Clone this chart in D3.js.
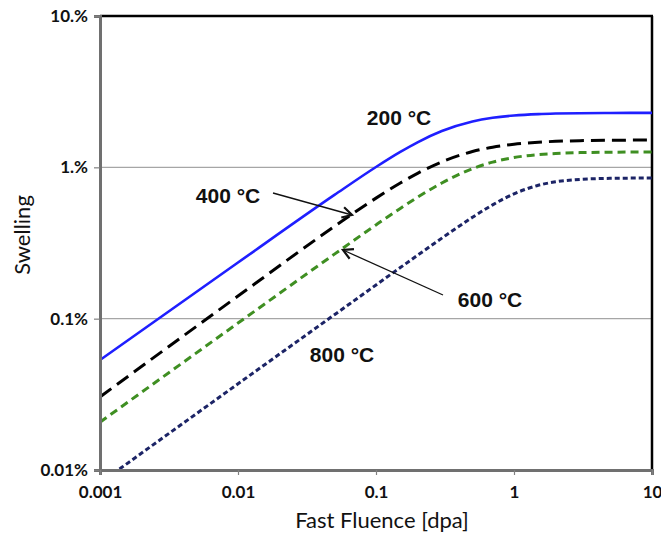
<!DOCTYPE html>
<html>
<head>
<meta charset="utf-8">
<script src="https://cdn.jsdelivr.net/npm/d3@7"></script>
<style>
  html, body { margin: 0; padding: 0; background: #fff; }
  svg { display: block; }
</style>
</head>
<body>
<svg id="chart" width="661" height="534"></svg>
<script>
// Fast fluence sample points [dpa]
const fluence = [0.001, 0.01, 0.05, 0.1, 0.15, 0.2, 0.3, 0.5, 0.7, 1, 1.5, 2, 3, 5, 10];

// Swelling [%] for each irradiation temperature
const swell200 = [0.0533, 0.235, 0.657, 1.005, 1.264, 1.463, 1.736, 2.009, 2.125, 2.201, 2.248, 2.266, 2.279, 2.286, 2.29];
const swell400 = [0.0304, 0.141, 0.407, 0.626, 0.788, 0.913, 1.087, 1.271, 1.359, 1.422, 1.466, 1.485, 1.500, 1.510, 1.515];
const swell600 = [0.0207, 0.0935, 0.267, 0.4165, 0.5355, 0.6345, 0.7885, 0.980, 1.083, 1.161, 1.213, 1.234, 1.251, 1.259, 1.264];
const swell800 = [0.0082, 0.0371, 0.1062, 0.167, 0.2176, 0.2623, 0.3405, 0.4675, 0.5651, 0.6683, 0.7608, 0.8025, 0.8324, 0.8459, 0.8502];

// Axis ticks
const xTicks = [0.001, 0.01, 0.1, 1, 10];
const xTickLabels = ["0.001", "0.01", "0.1", "1", "10"];
const yTicks = [0.01, 0.1, 1, 10];
const yTickLabels = ["0.01%", "0.1%", "1.%", "10.%"];
const gridValues = [0.1, 1];

const svg = d3.select("#chart");
const plotLeft = 100, plotRight = 652, plotTop = 16, plotBottom = 470;

const x = d3.scaleLog().domain([0.001, 10]).range([plotLeft, plotRight]);
const y = d3.scaleLog().domain([0.01, 10]).range([plotBottom, plotTop]);

// horizontal gridlines
svg.append("g").selectAll("line").data(gridValues).join("line")
  .attr("x1", plotLeft).attr("x2", plotRight)
  .attr("y1", d => y(d)).attr("y2", d => y(d))
  .attr("stroke", "#a6a6a6").attr("stroke-width", 1.2);

// plot frame: dark top and right edges
svg.append("line").attr("x1", plotLeft).attr("x2", plotRight + 1).attr("y1", plotTop).attr("y2", plotTop)
  .attr("stroke", "#000").attr("stroke-width", 2.5);
svg.append("line").attr("x1", plotRight).attr("x2", plotRight).attr("y1", plotTop).attr("y2", plotBottom)
  .attr("stroke", "#000").attr("stroke-width", 2.5);

const series = [
  { ys: swell200, color: "#1f1fff", dash: null,   width: 2.6 },
  { ys: swell400, color: "#000000", dash: "14,7", width: 3 },
  { ys: swell600, color: "#3f8f22", dash: "8,5",  width: 3 },
  { ys: swell800, color: "#1c2466", dash: "5,3",  width: 3 }
];

const line = d3.line()
  .x(d => x(d[0]))
  .y(d => y(d[1]))
  .curve(d3.curveMonotoneX);

svg.append("defs").append("clipPath").attr("id", "plotClip")
  .append("rect").attr("x", plotLeft).attr("y", plotTop)
  .attr("width", plotRight - plotLeft).attr("height", plotBottom - plotTop);

svg.append("g").attr("clip-path", "url(#plotClip)")
  .selectAll("path").data(series).join("path")
  .attr("d", s => line(fluence.map((v, i) => [v, s.ys[i]])))
  .attr("fill", "none")
  .attr("stroke", s => s.color)
  .attr("stroke-width", s => s.width)
  .attr("stroke-dasharray", s => s.dash);

const tickFont = "Lato, 'Open Sans', sans-serif";

// y axis
const yAxis = d3.axisLeft(y).tickValues(yTicks)
  .tickFormat((d, i) => yTickLabels[i]).tickSize(6).tickPadding(6);
const gy = svg.append("g").attr("transform", `translate(${plotLeft},0)`).call(yAxis);
gy.select(".domain").attr("stroke", "#707070").attr("stroke-width", 3);
gy.selectAll(".tick line").attr("stroke", "#808080").attr("stroke-width", 1.2);
gy.selectAll("text").attr("font-family", tickFont)
  .attr("font-weight", "bold").attr("font-size", 17).attr("fill", "#111");

// x axis
const xAxis = d3.axisBottom(x).tickValues(xTicks)
  .tickFormat((d, i) => xTickLabels[i]).tickSize(5).tickPadding(11);
const gx = svg.append("g").attr("transform", `translate(0,${plotBottom})`).call(xAxis);
gx.select(".domain").attr("stroke", "#707070").attr("stroke-width", 3);
gx.selectAll(".tick line").attr("stroke", "#808080").attr("stroke-width", 1.2);
gx.selectAll("text").attr("font-family", tickFont)
  .attr("font-weight", "bold").attr("font-size", 17).attr("fill", "#111");

// axis titles
svg.append("text").attr("x", 382).attr("y", 528)
  .attr("text-anchor", "middle")
  .attr("font-family", tickFont).attr("font-size", 22).attr("fill", "#111")
  .text("Fast Fluence [dpa]");
svg.append("text").attr("transform", "translate(30,235) rotate(-90)")
  .attr("text-anchor", "middle")
  .attr("font-family", tickFont).attr("font-size", 22).attr("fill", "#111")
  .text("Swelling");

// curve labels
const labels = [
  { text: "200 °C", x: 399, y: 125 },
  { text: "400 °C", x: 228, y: 203 },
  { text: "600 °C", x: 490, y: 307 },
  { text: "800 °C", x: 342, y: 362 }
];
svg.append("g").selectAll("text").data(labels).join("text")
  .attr("x", d => d.x).attr("y", d => d.y)
  .attr("text-anchor", "middle")
  .attr("font-family", "Arial, 'Liberation Sans', sans-serif")
  .attr("font-weight", "bold").attr("font-size", 21).attr("fill", "#111")
  .text(d => d.text);

// leader arrows from labels to curves
const arrows = [
  { x1: 273, y1: 193, x2: 352, y2: 215 },
  { x1: 443, y1: 295, x2: 343, y2: 250 }
];
const ag = svg.append("g").attr("stroke", "#111").attr("fill", "none").attr("stroke-width", 1.3);
arrows.forEach(a => {
  ag.append("line").attr("x1", a.x1).attr("y1", a.y1).attr("x2", a.x2).attr("y2", a.y2);
  const ang = Math.atan2(a.y2 - a.y1, a.x2 - a.x1);
  const len = 11, spread = 0.5;
  const p1 = [a.x2 - len * Math.cos(ang - spread), a.y2 - len * Math.sin(ang - spread)];
  const p2 = [a.x2 - len * Math.cos(ang + spread), a.y2 - len * Math.sin(ang + spread)];
  ag.append("path").attr("d", `M${p1[0]},${p1[1]}L${a.x2},${a.y2}L${p2[0]},${p2[1]}`)
    .attr("stroke-width", 2.2);
});
</script>
</body>
</html>
